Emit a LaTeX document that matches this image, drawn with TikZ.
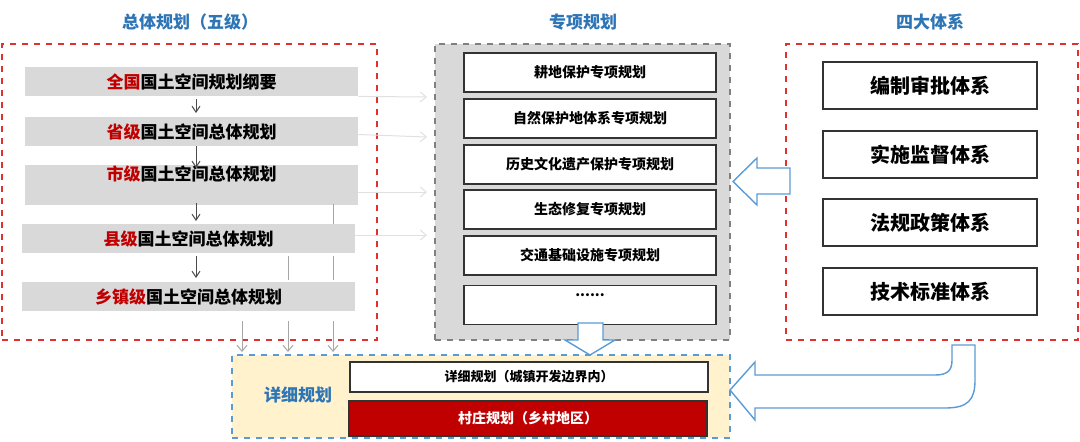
\documentclass[tikz,border=0pt]{standalone}
\usepackage{fontspec}
\setmainfont{Noto Sans CJK SC}
\usetikzlibrary{arrows.meta}
\definecolor{tblue}{HTML}{2E75B6}
\definecolor{ablue}{HTML}{5B9BD5}
\definecolor{dred}{HTML}{C00000}
\definecolor{rdash}{HTML}{E03030}
\definecolor{bar}{HTML}{D9D9D9}
\definecolor{cream}{HTML}{FFF2CC}
\begin{document}
\begin{tikzpicture}[x=0.5pt,y=-0.5pt,
  title/.style={text=tblue,font=\fontsize{8.5}{10}\selectfont\bfseries},
  lbar/.style={fill=bar,minimum width=166.5pt,minimum height=14.5pt,inner sep=0,font=\fontsize{8.5}{10}\selectfont\bfseries},
  mbox/.style={draw=black!80,fill=white,line width=0.6pt,minimum width=126pt,minimum height=19.5pt,inner sep=0,font=\fontsize{7}{8}\selectfont\bfseries},
  rbox/.style={draw=black!80,fill=white,line width=0.6pt,minimum width=107pt,minimum height=23.5pt,inner sep=0,font=\fontsize{10}{12}\selectfont\bfseries},
  reddash/.style={draw=rdash,dashed,line width=0.6pt},
  darr/.style={-{Straight Barb[length=3pt,width=4pt]},black!70,line width=0.5pt},
  larr/.style={-{Straight Barb[length=3pt,width=5pt]},black!12,line width=0.5pt},
  garr/.style={-{Straight Barb[length=3pt,width=5pt]},black!35,line width=0.5pt},
  hollow/.style={draw=ablue,fill=white,line width=0.7pt}]
\useasboundingbox (0,0) rectangle (1080,441);
% frames
\node[reddash,minimum width=187.5pt,minimum height=148pt,inner sep=0] (L) at (189.5,192) {};
\node[draw=black!50,dashed,fill=bar,line width=0.6pt,minimum width=147.5pt,minimum height=148pt,inner sep=0] (M) at (582.5,192) {};
\node[reddash,minimum width=146pt,minimum height=148pt,inner sep=0] (R) at (932,192) {};
\node[draw=ablue,dashed,fill=cream,line width=0.6pt,minimum width=249pt,minimum height=41.5pt,inner sep=0] (D) at (481,396.5) {};
\node[title] (tL) at (190,22) {总体规划（五级）};
\node[title] (tM) at (583,22) {专项规划};
\node[title] (tR) at (930,22) {四大体系};
% left bars
\node[lbar] (l1) at (191.5,81.5) {\textcolor{dred}{全国}国土空间规划纲要};
\node[lbar] (l2) at (191.5,131.5) {\textcolor{dred}{省级}国土空间总体规划};
\node[lbar,text height=8pt,text depth=12pt] (l3) at (191.5,184.5) {\textcolor{dred}{市级}国土空间总体规划};
\node[lbar] (l4) at (188.5,238.5) {\textcolor{dred}{县级}国土空间总体规划};
\node[lbar] (l5) at (188.5,296.5) {\textcolor{dred}{乡镇级}国土空间总体规划};
\draw[darr] (196,99) -- (196,113);
\draw[darr] (196,146) -- (196,168);
\draw[darr] (196,203) -- (196,221);
\draw[darr] (196,256) -- (196,278);
% light arrows to middle
\coordinate (m1) at (427,97);\coordinate (m2) at (427,137);
\coordinate (m3) at (427,192);\coordinate (m4) at (427,235);
\draw[larr] (l1.south east) -- (m1);
\draw[larr] (l2.east) ++(0,3) -- (m2);
\draw[larr] (l3.east) ++(0,7.5) -- (m3);
\draw[larr] (l4.east) ++(0,-3.5) -- (m4);
% gray lines and arrows down
\draw[black!35,line width=0.5pt] (333,204) -- (333,224) (333,256) -- (333,280) (288,256) -- (288,280);
\coordinate (d1) at (242,352);\coordinate (d2) at (288,352);\coordinate (d3) at (333,352);
\draw[garr] (242,321) -- (d1);
\draw[garr] (288,321) -- (d2);
\draw[garr] (333,321) -- (d3);
% middle boxes
\node[mbox] (s1) at (590,72.5) {耕地保护专项规划};
\node[mbox] (s2) at (590,118.5) {自然保护地体系专项规划};
\node[mbox] (s3) at (590,164.5) {历史文化遗产保护专项规划};
\node[mbox] (s4) at (590,209.5) {生态修复专项规划};
\node[mbox] (s5) at (590,255.5) {交通基础设施专项规划};
\node[mbox,text depth=10pt] (s6) at (590,305) {......};
% right boxes
\node[rbox] (r1) at (930,85.5) {编制审批体系};
\node[rbox] (r2) at (930,154.5) {实施监督体系};
\node[rbox] (r3) at (930,222.5) {法规政策体系};
\node[rbox] (r4) at (930,291.5) {技术标准体系};
% bottom
\node[text=tblue,font=\fontsize{8.5}{10}\selectfont\bfseries] (dt) at (298,395) {详细规划};
\node[draw=black!80,fill=white,line width=0.6pt,minimum width=179pt,minimum height=15pt,inner sep=0,font=\fontsize{6.5}{8}\selectfont\bfseries] (b1) at (529,377) {详细规划（城镇开发边界内）};
\node[draw=black!80,fill=dred,text=white,line width=0.6pt,minimum width=179pt,minimum height=17.5pt,inner sep=0,font=\fontsize{7}{8}\selectfont\bfseries] (b2) at (528,418.5) {村庄规划（乡村地区）};
% hollow arrows
\draw[hollow] (578,323) -- (603,323) -- (603,340) -- (615,340) -- (590,355) -- (565,340) -- (578,340) -- cycle;
\draw[hollow] (790,168) -- (757,168) -- (757,158) -- (733,181.5) -- (757,205) -- (757,194) -- (790,194) -- cycle;
\draw[hollow] (952,345) -- (975,345) -- (975,380) .. controls (975,400) and (968,408) .. (945,408) -- (755,408) -- (755,420) -- (730,390) -- (755,362) -- (755,375) -- (935,375) .. controls (948,375) and (952,370) .. (952,360) -- cycle;
\end{tikzpicture}
\end{document}
